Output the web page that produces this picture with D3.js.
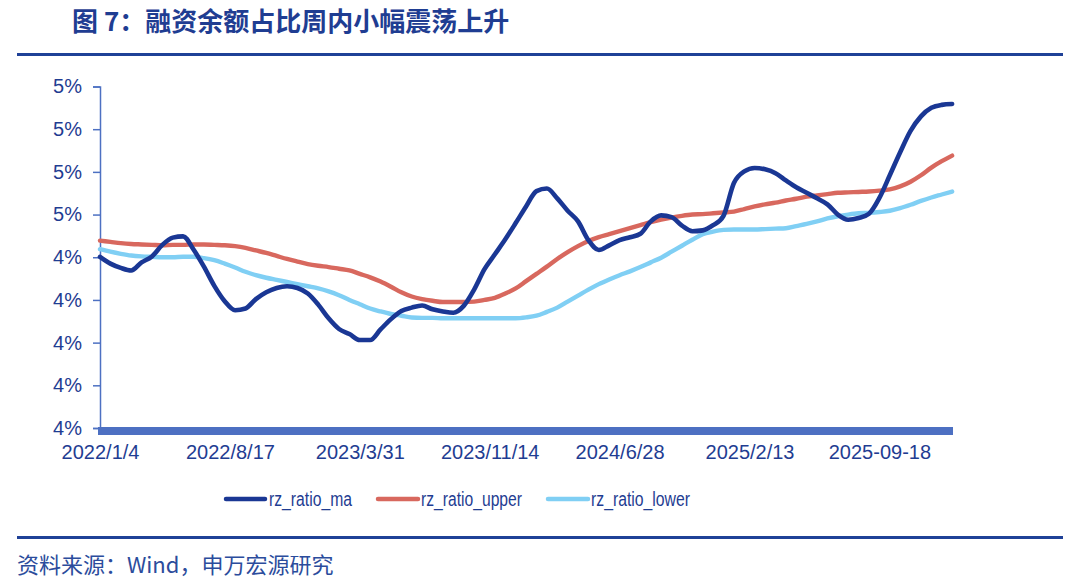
<!DOCTYPE html>
<html>
<head>
<meta charset="utf-8">
<script src="https://cdn.jsdelivr.net/npm/d3@7"></script>
<style>
  html, body { margin: 0; padding: 0; background: #ffffff; }
  svg { display: block; }
</style>
</head>
<body>
<svg id="chart" width="1080" height="586"></svg>
<script>
// ---------------- data ----------------
const titleText = "图 7：融资余额占比周内小幅震荡上升";
const sourceText = "资料来源：Wind，申万宏源研究";

// trading-day index of each sampled observation (one every 12 trading days from 2022/1/4)
const dayIndex = d3.range(0, 985, 12);

const xTickIndex = [0, 150, 300, 450, 600, 750, 900];
const xTickLabels = ["2022/1/4", "2022/8/17", "2023/3/31", "2023/11/14", "2024/6/28", "2025/2/13", "2025-09-18"];

const yTicks = [4.0, 4.1, 4.2, 4.3, 4.4, 4.5, 4.6, 4.7, 4.8];
const yTickLabels = ["4%", "4%", "4%", "4%", "4%", "5%", "5%", "5%", "5%"];

const seriesNames = ["rz_ratio_ma", "rz_ratio_upper", "rz_ratio_lower"];

const rzRatioMa = [
  4.401, 4.385, 4.375, 4.369, 4.388, 4.402, 4.429, 4.446, 4.449, 4.418,
  4.378, 4.333, 4.297, 4.276, 4.280, 4.302, 4.318, 4.328, 4.332, 4.328,
  4.315, 4.289, 4.257, 4.232, 4.220, 4.206, 4.206, 4.231, 4.255, 4.274,
  4.282, 4.287, 4.278, 4.273, 4.270, 4.286, 4.324, 4.372, 4.407, 4.442,
  4.480, 4.519, 4.555, 4.561, 4.538, 4.509, 4.484, 4.440, 4.417, 4.428,
  4.440, 4.447, 4.455, 4.484, 4.498, 4.494, 4.474, 4.461, 4.463, 4.475,
  4.497, 4.574, 4.601, 4.609, 4.606, 4.597, 4.580, 4.564, 4.551, 4.538,
  4.524, 4.500, 4.488, 4.492, 4.502, 4.539, 4.592, 4.646, 4.696, 4.730,
  4.750, 4.757, 4.759
];

const rzRatioUpper = [
  4.439, 4.436, 4.433, 4.431, 4.430, 4.429, 4.428, 4.429, 4.429, 4.430,
  4.430, 4.429, 4.428, 4.426, 4.422, 4.416, 4.410, 4.403, 4.396, 4.390,
  4.384, 4.380, 4.377, 4.373, 4.369, 4.361, 4.353, 4.343, 4.331, 4.318,
  4.308, 4.302, 4.298, 4.295, 4.295, 4.295, 4.296, 4.300, 4.305, 4.315,
  4.327, 4.344, 4.361, 4.378, 4.396, 4.412, 4.426, 4.438, 4.447, 4.454,
  4.461, 4.468, 4.475, 4.482, 4.488, 4.493, 4.497, 4.500, 4.501, 4.503,
  4.505, 4.507, 4.513, 4.519, 4.524, 4.528, 4.533, 4.537, 4.542, 4.545,
  4.548, 4.551, 4.552, 4.553, 4.554, 4.556, 4.559, 4.566, 4.577, 4.592,
  4.610, 4.625, 4.638
];

const rzRatioLower = [
  4.419, 4.413, 4.408, 4.404, 4.402, 4.401, 4.400, 4.400, 4.401, 4.401,
  4.398, 4.393, 4.385, 4.376, 4.366, 4.358, 4.352, 4.347, 4.342, 4.337,
  4.332, 4.327, 4.320, 4.311, 4.300, 4.290, 4.280, 4.273, 4.267, 4.263,
  4.259, 4.258, 4.258, 4.257, 4.257, 4.257, 4.257, 4.257, 4.257, 4.257,
  4.257, 4.259, 4.263, 4.272, 4.282, 4.296, 4.310, 4.324, 4.337, 4.348,
  4.358, 4.367, 4.377, 4.388, 4.399, 4.413, 4.427, 4.441, 4.454, 4.460,
  4.464, 4.465, 4.465, 4.465, 4.466, 4.467, 4.468, 4.473, 4.478, 4.484,
  4.491, 4.496, 4.500, 4.503, 4.504, 4.506, 4.509, 4.515, 4.523, 4.532,
  4.540, 4.547, 4.554
];

const seriesColors = ["#1a3794", "#d8685e", "#80cff4"];

// ---------------- drawing ----------------
const svg = d3.select("#chart");
const textBlue = "#1f3d92";
const axisBlue = "#4d70c2";
const latin = "'Liberation Sans', Arial, 'Noto Sans CJK SC', sans-serif";
const cjk = "'Noto Sans CJK SC', 'Liberation Sans', sans-serif";

svg.append("rect").attr("width", 1080).attr("height", 586).attr("fill", "#ffffff");

// title
svg.append("text")
  .attr("x", 72).attr("y", 30.5)
  .attr("font-family", cjk).attr("font-weight", 700).attr("font-size", 26)
  .attr("fill", textBlue)
  .text(titleText);

svg.append("line").attr("x1", 17).attr("x2", 1063).attr("y1", 54.5).attr("y2", 54.5)
  .attr("stroke", "#1f4197").attr("stroke-width", 3);

const x = d3.scaleLinear().domain([0, 985]).range([100, 953]);
const y = d3.scaleLinear().domain([4.0, 4.8]).range([428, 86.5]);

// y axis
const yAxis = d3.axisLeft(y).tickValues(yTicks).tickSize(7).tickPadding(11)
  .tickFormat((d, i) => yTickLabels[i]);
const gy = svg.append("g").attr("transform", "translate(100,0)").call(yAxis);
gy.select(".domain").attr("stroke", axisBlue).attr("stroke-width", 1.5);
gy.selectAll(".tick line").attr("stroke", axisBlue).attr("stroke-width", 1.5);
gy.selectAll(".tick text").attr("fill", textBlue).attr("font-family", latin).attr("font-size", 20);

// x axis (thick bar)
const xAxis = d3.axisBottom(x).tickValues(xTickIndex).tickSize(0).tickPadding(14)
  .tickFormat((d, i) => xTickLabels[i]);
const gx = svg.append("g").attr("transform", "translate(0,431)").call(xAxis);
gx.select(".domain").attr("stroke", axisBlue).attr("stroke-width", 8)
  .attr("d", `M98,0H953`);
gx.selectAll(".tick text").attr("fill", textBlue).attr("font-family", latin).attr("font-size", 20);

// lines
const allSeries = [rzRatioMa, rzRatioUpper, rzRatioLower];
const line = d3.line()
  .x((d, i) => x(dayIndex[i]))
  .y(d => y(d))
  .curve(d3.curveMonotoneX);

// draw lower and upper first, ma on top
[2, 1, 0].forEach(k => {
  svg.append("path")
    .datum(allSeries[k])
    .attr("fill", "none")
    .attr("stroke", seriesColors[k])
    .attr("stroke-width", k === 0 ? 4.6 : 4.4)
    .attr("stroke-linejoin", "round")
    .attr("stroke-linecap", "round")
    .attr("d", line);
});

// legend
const legendItems = [
  { x1: 226, x2: 265, tx: 269, w: 83 },
  { x1: 378, x2: 418, tx: 421, w: 101 },
  { x1: 548, x2: 588, tx: 591, w: 99 }
];
legendItems.forEach((it, k) => {
  svg.append("line").attr("x1", it.x1).attr("x2", it.x2).attr("y1", 499).attr("y2", 499)
    .attr("stroke", seriesColors[k]).attr("stroke-width", 4.5).attr("stroke-linecap", "round");
  svg.append("text").attr("x", it.tx).attr("y", 506)
    .attr("font-family", latin).attr("font-size", 20).attr("fill", textBlue)
    .attr("textLength", it.w).attr("lengthAdjust", "spacingAndGlyphs")
    .text(seriesNames[k]);
});

// footer
svg.append("line").attr("x1", 17).attr("x2", 1063).attr("y1", 537.5).attr("y2", 537.5)
  .attr("stroke", "#1f4197").attr("stroke-width", 3);
svg.append("text")
  .attr("x", 17).attr("y", 573)
  .attr("font-family", cjk).attr("font-size", 22)
  .attr("fill", "#2b4c9c")
  .text(sourceText);
</script>
</body>
</html>
